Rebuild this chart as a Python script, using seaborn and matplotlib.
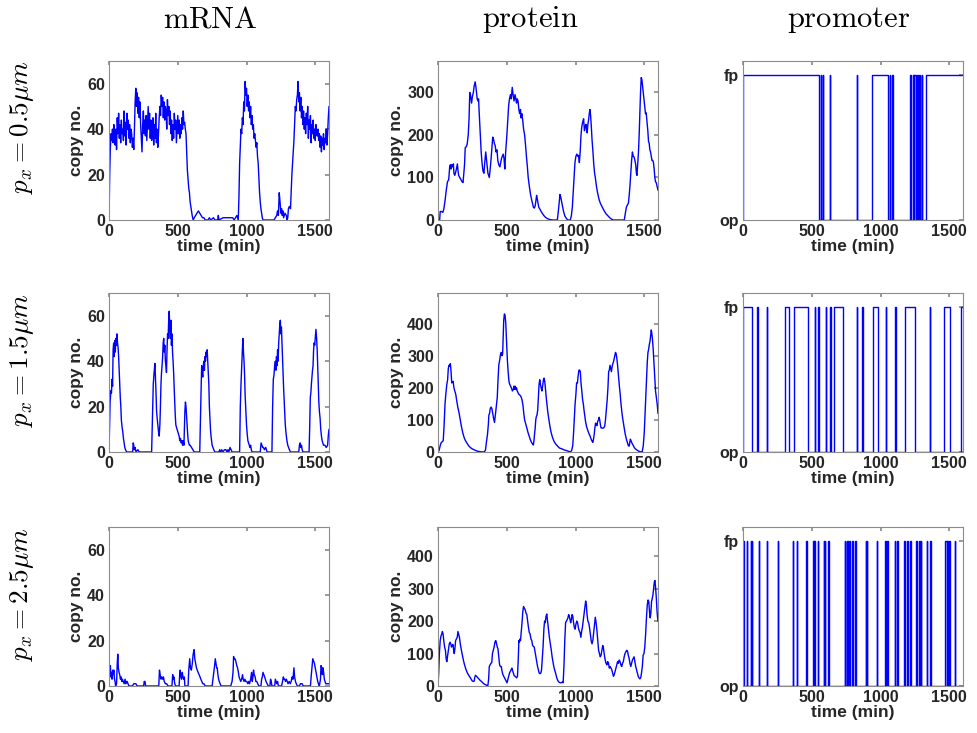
import matplotlib
matplotlib.use("Agg")
import matplotlib.pyplot as plt
import seaborn as sns
import numpy as np
import pandas as pd

# --- valeurs : (temps en min, nombre de copies) ---
MRNA_05 = [(0,0),(5,20),(10,32),(15,38),(20,35),(25,40),(30,34),(35,42),(40,36),(45,33),(50,40),(55,31),
    (60,45),(65,38),(70,47),(75,36),(80,42),(85,34),(90,44),(95,38),(100,40),(105,35),(110,48),(115,37),
    (120,43),(125,33),(130,47),(135,40),(140,44),(145,36),(150,42),(155,34),(160,40),(165,38),(170,32),
    (175,36),(180,31),(185,40),(190,52),(195,58),(200,50),(205,56),(210,47),(215,54),(220,45),(225,52),
    (230,42),(235,36),(240,30),(245,42),(250,48),(255,38),(260,44),(265,37),(270,46),(275,35),(280,42),
    (285,50),(290,40),(295,47),(300,36),(305,44),(310,35),(315,38),(320,45),(325,33),(330,42),(335,36),
    (340,47),(345,34),(350,40),(355,32),(360,38),(365,45),(370,50),(375,46),(380,55),(385,50),(390,54),
    (395,45),(400,52),(405,44),(410,50),(415,48),(420,40),(425,53),(430,46),(435,50),(440,42),(445,48),
    (450,38),(455,44),(460,35),(465,42),(470,36),(475,47),(480,40),(485,44),(490,34),(495,40),(500,46),
    (505,38),(510,44),(515,36),(520,42),(525,38),(530,45),(535,40),(540,48),(545,42),(550,43),(555,40),
    (560,38),(565,30),(570,22),(575,18),(580,14),(585,12),(590,8),(595,6),(600,4),(605,2),(612,0),
    (620,1),(630,2),(640,3),(650,4),(660,3),(670,2),(680,1),(690,1),(700,0),(720,0),(730,1),(740,0),
    (760,1),(770,0),(790,0),(795,2),(800,0),(830,1),(860,1),(880,1),(900,1),(910,0),(930,2),(940,0),
    (945,10),(950,25),(955,32),(960,40),(965,38),(970,45),(975,42),(980,52),(985,48),(990,61),(995,55),
    (1000,58),(1005,50),(1010,55),(1015,48),(1020,52),(1025,45),(1030,50),(1035,42),(1040,46),(1045,40),
    (1050,42),(1055,36),(1060,38),(1065,35),(1070,32),(1075,34),(1080,28),(1085,25),(1090,18),(1095,12),
    (1100,8),(1105,5),(1110,3),(1115,1),(1120,0),(1200,0),(1210,1),(1220,2),(1225,4),(1232,2),(1238,12),
    (1244,8),(1250,3),(1255,5),(1260,2),(1265,4),(1270,1),(1280,3),(1290,2),(1295,0),(1300,1),(1305,5),
    (1312,6),(1320,5),(1330,20),(1340,30),(1345,35),(1350,42),(1355,50),(1360,48),(1365,53),(1370,55),
    (1375,61),(1380,52),(1385,56),(1390,48),(1395,54),(1400,45),(1405,50),(1410,42),(1415,48),(1420,40),
    (1425,45),(1430,38),(1435,47),(1440,42),(1445,50),(1450,36),(1455,44),(1460,40),(1465,46),(1470,34),
    (1475,42),(1480,38),(1485,44),(1490,36),(1495,40),(1500,35),(1505,42),(1510,38),(1515,37),(1520,40),
    (1525,35),(1530,38),(1535,32),(1540,37),(1545,30),(1550,36),(1555,33),(1560,38),(1565,31),(1570,36),
    (1575,34),(1580,40),(1585,33),(1590,38),(1595,45),(1600,50)]

MRNA_15 = [(0,0),(4,12),(8,22),(14,27),(18,26),(22,32),(26,29),(30,45),(34,48),(38,42),(42,49),(46,44),
    (50,50),(54,47),(58,52),(62,48),(66,46),(70,42),(74,36),(78,30),(82,24),(86,20),(90,14),(95,11),
    (100,9),(105,6),(110,4),(115,2),(120,1),(128,0),(172,0),(176,4),(180,3),(184,1),(190,2),(196,0),
    (210,1),(220,0),(310,0),(316,15),(322,30),(328,35),(334,39),(338,33),(342,26),(346,18),(350,15),
    (355,12),(360,9),(365,7),(370,12),(374,20),(378,30),(382,35),(386,38),(390,42),(394,48),(398,50),
    (402,44),(406,47),(410,40),(414,38),(418,35),(422,45),(426,52),(430,50),(434,58),(438,62),(442,54),
    (446,50),(450,58),(454,47),(458,52),(462,44),(466,40),(470,35),(474,28),(478,22),(482,16),(486,12),
    (490,11),(495,10),(500,9),(505,8),(510,7),(515,5),(520,6),(525,4),(530,5),(535,3),(540,5),(545,3),
    (548,10),(552,18),(556,22),(560,20),(564,16),(568,12),(572,8),(576,5),(580,4),(585,3),(590,3),
    (600,2),(610,1),(620,0),(660,0),(665,15),(670,28),(674,38),(678,35),(682,33),(686,38),(690,40),
    (694,36),(698,42),(702,40),(706,44),(710,42),(714,45),(718,40),(722,36),(726,30),(730,20),(734,15),
    (738,10),(742,7),(746,5),(750,3),(756,2),(762,1),(770,0),(800,0),(805,1),(812,0),(820,1),(828,0),
    (840,1),(850,1),(858,0),(865,1),(872,0),(880,2),(888,1),(895,0),(950,0),(955,20),(960,30),(965,38),
    (970,45),(974,50),(978,44),(982,40),(986,34),(990,25),(995,18),(1000,12),(1005,8),(1010,5),(1015,4),
    (1020,3),(1025,2),(1030,3),(1035,1),(1040,0),(1100,0),(1106,4),(1112,3),(1118,2),(1124,2),(1130,1),
    (1140,2),(1150,0),(1185,0),(1190,20),(1195,32),(1200,34),(1205,38),(1210,40),(1214,36),(1218,42),
    (1222,38),(1226,45),(1230,40),(1234,48),(1238,52),(1242,56),(1246,58),(1250,52),(1254,55),(1258,48),
    (1262,42),(1266,35),(1270,28),(1276,20),(1282,12),(1288,8),(1294,5),(1300,3),(1306,2),(1312,1),
    (1320,0),(1380,0),(1385,3),(1390,4),(1395,2),(1400,3),(1405,1),(1410,0),(1455,0),(1460,12),(1464,24),
    (1468,26),(1472,30),(1476,33),(1480,36),(1484,38),(1488,45),(1492,48),(1496,47),(1500,50),(1505,54),
    (1510,50),(1514,45),(1518,38),(1522,30),(1526,22),(1530,18),(1535,15),(1540,10),(1545,7),(1550,5),
    (1560,3),(1570,3),(1580,2),(1590,3),(1596,8),(1600,10)]

MRNA_25 = [(0,0),(4,5),(10,9),(14,4),(18,6),(22,3),(27,7),(31,5),(35,7),(40,3),(44,2),(48,0),(55,1),
    (60,10),(64,14),(68,8),(73,6),(78,5),(83,3),(88,4),(93,2),(98,3),(103,2),(110,1),(117,3),(122,1),
    (127,2),(132,2),(138,1),(145,0),(170,0),(180,1),(195,1),(205,0),(252,0),(256,2),(262,2),(266,0),
    (362,0),(367,7),(372,5),(378,3),(384,4),(390,3),(396,4),(402,2),(410,1),(420,1),(428,0),(458,0),
    (463,5),(468,3),(472,4),(478,1),(485,0),(510,0),(514,5),(518,7),(523,4),(528,3),(533,6),(538,4),
    (543,3),(548,4),(552,0),(575,0),(580,7),(587,12),(592,8),(599,7),(606,10),(612,14),(619,16),
    (624,12),(630,10),(636,8),(642,7),(648,6),(655,5),(662,4),(668,3),(675,2),(682,1),(690,1),(700,0),
    (750,0),(756,3),(762,6),(768,9),(773,12),(778,10),(783,8),(787,8),(792,5),(797,3),(802,2),(808,1),
    (815,0),(885,0),(895,2),(902,6),(906,13),(910,12),(916,12),(922,11),(929,9),(935,8),(941,6),(946,4),
    (952,3),(958,2),(965,3),(971,5),(976,3),(982,2),(988,3),(995,2),(1002,2),(1010,1),(1016,2),(1022,1),
    (1030,3),(1037,6),(1042,2),(1047,4),(1051,7),(1056,5),(1063,4),(1068,2),(1075,2),(1082,1),(1090,0),
    (1105,0),(1110,3),(1115,4),(1120,6),(1126,5),(1132,4),(1137,3),(1142,2),(1150,1),(1158,0),(1170,0),
    (1175,3),(1180,2),(1185,0),(1205,0),(1210,3),(1215,2),(1220,1),(1226,2),(1232,0),(1255,0),(1262,2),
    (1268,4),(1273,3),(1278,3),(1284,2),(1290,3),(1296,2),(1302,1),(1310,2),(1318,1),(1325,2),(1332,4),
    (1338,3),(1345,8),(1350,4),(1356,2),(1362,1),(1370,0),(1385,0),(1392,1),(1405,1),(1412,0),(1465,0),
    (1470,4),(1476,8),(1482,12),(1488,11),(1494,10),(1500,8),(1506,6),(1512,4),(1518,2),(1523,1),
    (1530,0),(1538,3),(1542,9),(1547,8),(1552,5),(1556,8),(1561,6),(1566,3),(1571,2),(1577,1),(1585,1),
    (1600,1)]

PROT_05 = [(0,0),(12,0),(16,20),(25,20),(35,18),(42,25),(51,45),(60,70),(69,90),(78,95),(85,125),
    (90,130),(95,120),(100,130),(106,125),(112,132),(116,110),(122,105),(128,112),(134,120),(141,132),
    (146,115),(150,105),(158,100),(167,95),(175,90),(182,88),(188,110),(193,130),(198,170),(205,172),
    (212,178),(220,200),(226,240),(231,300),(236,295),(240,285),(244,275),(250,290),(257,300),(263,315),
    (270,325),(275,315),(280,300),(285,285),(290,280),(295,285),(300,250),(308,200),(314,160),(320,135),
    (327,115),(334,110),(340,135),(347,160),(352,145),(358,125),(363,110),(368,105),(373,100),(378,115),
    (385,140),(392,170),(398,195),(404,190),(410,180),(416,175),(422,160),(429,165),(435,140),(442,130),
    (450,125),(456,135),(462,145),(468,150),(474,155),(480,145),(486,120),(492,160),(501,200),(508,240),
    (514,270),(520,285),(527,295),(533,285),(540,312),(546,295),(553,280),(560,295),(566,285),(571,275),
    (576,285),(582,280),(588,260),(594,250),(600,260),(604,240),(610,250),(616,235),(622,215),(630,200),
    (637,175),(643,150),(650,125),(656,100),(664,80),(673,60),(683,45),(694,30),(700,28),(706,32),
    (712,45),(717,58),(722,50),(727,40),(733,30),(742,25),(750,20),(760,15),(771,10),(783,6),(797,3),
    (815,1),(835,0),(868,0),(875,20),(882,45),(887,60),(892,55),(898,45),(904,35),(913,20),(922,10),
    (931,5),(938,2),(945,0),(962,0),(970,10),(977,30),(984,70),(990,100),(996,135),(1003,150),(1010,155),
    (1016,150),(1022,152),(1028,135),(1034,160),(1040,200),(1046,220),(1052,230),(1059,238),(1065,210),
    (1071,220),(1076,225),(1080,215),(1085,205),(1090,225),(1095,235),(1100,250),(1105,260),(1110,245),
    (1115,220),(1120,190),(1127,160),(1133,130),(1139,110),(1144,100),(1152,80),(1160,65),(1170,50),
    (1180,40),(1195,30),(1208,22),(1221,15),(1235,10),(1250,5),(1262,2),(1275,0),(1355,0),(1362,15),
    (1370,30),(1377,35),(1385,40),(1391,60),(1396,80),(1402,110),(1408,140),(1414,160),(1420,150),
    (1426,148),(1432,140),(1438,130),(1443,110),(1447,105),(1452,130),(1458,160),(1463,200),(1468,250),
    (1473,300),(1478,335),(1483,330),(1488,315),(1493,300),(1499,280),(1504,265),(1509,250),(1514,252),
    (1520,230),(1526,210),(1531,185),(1536,180),(1541,165),(1546,160),(1551,150),(1556,140),(1562,140),
    (1567,135),(1572,120),(1577,100),(1582,90),(1587,88),(1593,80),(1600,70)]

PROT_15 = [(0,0),(8,5),(16,20),(22,28),(30,32),(38,35),(44,80),(51,150),(57,180),(64,210),(70,225),
    (75,260),(80,270),(85,268),(90,275),(95,250),(100,215),(105,218),(110,220),(116,200),(122,190),
    (129,180),(136,160),(144,140),(154,120),(162,100),(170,80),(180,60),(190,45),(200,35),(210,28),
    (222,20),(235,14),(248,10),(262,7),(283,3),(305,1),(334,0),(345,5),(352,30),(360,55),(366,85),
    (370,115),(375,120),(380,135),(386,140),(392,135),(398,120),(404,105),(411,92),(416,110),(421,130),
    (426,150),(431,170),(436,220),(442,270),(450,290),(455,305),(460,310),(465,300),(470,305),(474,360),
    (478,410),(483,430),(488,425),(493,400),(498,350),(504,290),(510,250),(516,220),(522,210),(528,205),
    (535,198),(541,190),(548,195),(552,205),(556,195),(561,205),(566,195),(571,200),(576,190),(582,185),
    (587,180),(593,178),(600,175),(606,170),(612,160),(618,145),(624,120),(630,100),(638,88),(646,75),
    (655,60),(664,48),(672,38),(680,30),(688,25),(694,22),(699,40),(703,60),(707,75),(711,100),(715,110),
    (720,115),(725,130),(730,170),(735,210),(740,225),(745,210),(750,200),(756,190),(762,210),(767,225),
    (771,230),(776,220),(781,200),(787,170),(792,150),(797,130),(805,105),(814,80),(823,60),(833,45),
    (845,32),(856,25),(870,18),(885,12),(900,10),(915,7),(930,5),(945,3),(958,1),(964,0),(972,5),
    (980,20),(986,60),(992,110),(997,150),(1003,180),(1008,215),(1014,215),(1020,240),(1025,255),
    (1030,255),(1035,250),(1040,215),(1046,190),(1051,165),(1057,150),(1062,130),(1067,115),(1073,95),
    (1080,80),(1087,70),(1094,62),(1100,55),(1106,50),(1112,42),(1119,35),(1126,30),(1131,40),(1136,55),
    (1141,75),(1146,90),(1151,85),(1156,82),(1161,95),(1167,100),(1172,108),(1176,100),(1181,85),
    (1186,75),(1192,75),(1198,74),(1205,75),(1212,80),(1218,100),(1224,130),(1230,160),(1236,200),
    (1241,250),(1246,255),(1251,270),(1256,260),(1261,250),(1266,265),(1271,275),(1276,280),(1281,290),
    (1286,300),(1291,310),(1296,305),(1301,290),(1306,270),(1312,240),(1318,210),(1325,180),(1331,150),
    (1337,125),(1343,105),(1350,85),(1356,70),(1362,55),(1370,40),(1377,30),(1384,20),(1390,18),
    (1395,30),(1399,40),(1404,35),(1410,28),(1418,22),(1426,15),(1435,10),(1447,6),(1458,3),(1470,1),
    (1485,0),(1493,20),(1500,60),(1505,110),(1510,160),(1516,220),(1522,280),(1527,310),(1532,320),
    (1537,335),(1542,345),(1547,365),(1551,380),(1555,370),(1560,350),(1565,320),(1570,280),(1576,230),
    (1582,190),(1588,170),(1594,150),(1600,120)]

PROT_25 = [(0,0),(5,40),(10,100),(16,140),(22,155),(27,160),(32,168),(37,160),(42,140),(48,120),
    (54,110),(59,85),(64,75),(69,90),(75,110),(82,130),(88,135),(93,130),(98,120),(103,125),(109,128),
    (114,110),(118,100),(123,115),(128,140),(134,145),(140,150),(145,168),(150,160),(156,150),(162,130),
    (168,115),(175,100),(182,85),(190,70),(198,58),(206,48),(214,40),(222,34),(231,28),(240,22),
    (248,16),(257,14),(263,15),(268,28),(273,33),(280,30),(288,26),(296,22),(305,18),(313,15),(321,12),
    (330,8),(340,5),(347,4),(355,2),(362,0),(368,20),(373,60),(379,65),(385,70),(391,72),(396,100),
    (402,110),(408,120),(414,135),(420,140),(426,130),(431,120),(436,115),(442,90),(448,65),(454,60),
    (460,60),(466,45),(472,35),(478,30),(484,25),(490,20),(496,15),(502,10),(508,20),(514,30),(520,40),
    (526,45),(532,50),(537,55),(542,48),(548,40),(554,32),(560,30),(566,28),(572,25),(578,30),(584,85),
    (588,140),(592,135),(596,145),(600,140),(606,170),(612,200),(617,230),(622,245),(628,240),(634,235),
    (640,225),(646,220),(652,200),(658,180),(664,165),(670,160),(676,145),(682,140),(688,125),(694,122),
    (700,120),(706,105),(712,90),(718,75),(724,60),(730,50),(736,40),(742,38),(748,40),(753,50),
    (758,80),(764,120),(770,175),(775,200),(780,195),(786,215),(791,222),(797,200),(803,180),(810,150),
    (817,130),(824,110),(830,90),(836,75),(842,60),(848,50),(855,40),(862,28),(868,20),(874,15),
    (880,12),(888,10),(896,10),(904,12),(910,10),(916,60),(922,140),(928,195),(934,200),(940,205),
    (945,210),(950,220),(955,215),(960,205),(965,195),(970,205),(975,220),(980,215),(986,195),(992,180),
    (997,175),(1003,190),(1009,200),(1015,195),(1021,180),(1027,170),(1033,165),(1039,150),(1045,170),
    (1050,180),(1056,200),(1062,220),(1068,240),(1074,262),(1079,250),(1084,220),(1090,200),(1096,195),
    (1102,180),(1108,160),(1114,140),(1120,130),(1126,140),(1132,165),(1138,190),(1144,212),(1150,195),
    (1156,170),(1162,140),(1168,110),(1174,100),(1180,90),(1186,95),(1192,110),(1198,125),(1204,115),
    (1210,95),(1216,80),(1222,70),(1228,65),(1234,75),(1240,70),(1246,55),(1252,60),(1258,55),(1264,50),
    (1270,40),(1276,30),(1282,35),(1288,45),(1294,55),(1300,65),(1306,75),(1312,70),(1318,80),(1324,75),
    (1330,65),(1336,60),(1342,70),(1348,75),(1354,90),(1360,100),(1366,105),(1372,110),(1378,108),
    (1384,95),(1390,85),(1396,70),(1402,60),(1408,70),(1414,80),(1420,85),(1426,90),(1432,75),(1438,60),
    (1444,50),(1450,40),(1456,30),(1462,25),(1468,22),(1474,25),(1480,40),(1486,60),(1492,95),(1498,100),
    (1504,120),(1510,160),(1516,210),(1522,250),(1528,265),(1533,260),(1538,230),(1543,210),(1548,225),
    (1553,260),(1558,270),(1563,280),(1568,300),(1573,320),(1578,325),(1583,300),(1588,270),(1593,230),
    (1597,210),(1600,200)]

# intervalles (début, fin) où le promoteur est dans l'état "fp"
PROM_05 = [(0,555),(565,568),(580,584),(630,633),(828,831),(940,1058),(1066,1070),(1086,1091),
    (1215,1224),(1234,1240),(1246,1255),(1265,1268),(1274,1280),(1286,1290),(1300,1304),(1329,1600)]
PROM_15 = [(0,62),(105,108),(174,177),(308,337),(368,470),(520,524),(542,550),(600,604),(636,640),
    (662,730),(826,829),(866,870),(948,981),(1037,1040),(1108,1111),(1176,1252),(1360,1363),
    (1461,1504),(1588,1600)]
PROM_25 = [(0,4),(27,30),(55,58),(62,66),(115,118),(174,177),(253,256),(360,363),(391,394),(460,463),
    (510,513),(517,521),(543,546),(586,590),(593,597),(615,625),(741,745),(753,757),(760,764),(772,776),
    (793,797),(817,821),(893,897),(900,904),(972,976),(1034,1038),(1050,1054),(1105,1109),(1122,1126),
    (1174,1178),(1193,1197),(1217,1221),(1258,1262),(1281,1285),(1293,1297),(1336,1340),(1360,1364),
    (1467,1480),(1484,1490),(1495,1505),(1541,1545)]

ROW_LABELS = [r"$p_x = 0.5\mu m$", r"$p_x = 1.5\mu m$", r"$p_x = 2.5\mu m$"]
COL_TITLES = ["mRNA", "protein", "promoter"]
PROT_YMAX = [374, 495, 490]
T_END = 1600


def to_frame(pairs):
    t, v = zip(*pairs)
    return pd.DataFrame({"time": t, "copies": v})


def promoter_frame(intervals):
    # trace en créneaux : 0 = op, 1 = fp
    t, s = [0], [0]
    for a, b in intervals:
        t += [a, a, b]
        s += [0, 1, 1]
        if b < T_END:
            t.append(b)
            s.append(0)
    if t[-1] < T_END:
        t.append(T_END)
        s.append(s[-1])
    return pd.DataFrame({"time": t, "state": s})


sns.set_theme(style="white")
plt.rcParams["font.family"] = ["Liberation Sans", "DejaVu Sans"]
plt.rcParams["mathtext.fontset"] = "cm"

GREY = "#8c8c8c"
TXT = "#262626"

fig = plt.figure(figsize=(9.77, 7.33), dpi=100)
W, H = 977, 733
lefts = [109, 438, 743]
tops = [61, 293, 527]
aw, ah = 220, 159

mrna = [MRNA_05, MRNA_15, MRNA_25]
prot = [PROT_05, PROT_15, PROT_25]
prom = [PROM_05, PROM_15, PROM_25]

for r in range(3):
    for c in range(3):
        ax = fig.add_axes([lefts[c] / W, 1 - (tops[r] + ah) / H, aw / W, ah / H])
        if c == 0:
            sns.lineplot(data=to_frame(mrna[r]), x="time", y="copies", ax=ax,
                         color="blue", lw=1, estimator=None, sort=False)
            ax.set_ylim(0, 70)
            ax.set_yticks([0, 20, 40, 60])
            ax.set_ylabel("copy no.", fontsize=12.5, fontweight="bold", color=TXT, labelpad=2)
        elif c == 1:
            sns.lineplot(data=to_frame(prot[r]), x="time", y="copies", ax=ax,
                         color="blue", lw=1, estimator=None, sort=False)
            ax.set_ylim(0, PROT_YMAX[r])
            ax.set_yticks(range(0, PROT_YMAX[r], 100))
            ax.set_ylabel("copy no.", fontsize=12.5, fontweight="bold", color=TXT, labelpad=2)
        else:
            sns.lineplot(data=promoter_frame(prom[r]), x="time", y="state", ax=ax,
                         color="blue", lw=1, estimator=None, sort=False)
            ax.set_ylim(0, 1.096)
            ax.set_yticks([0, 1])
            ax.set_yticklabels(["op", "fp"])
            ax.set_ylabel("")
        ax.set_xlim(0, T_END)
        ax.set_xticks([0, 500, 1000, 1500])
        ax.set_xlabel("time (min)", fontsize=12.5, fontweight="bold", color=TXT, labelpad=0)
        ax.tick_params(direction="in", top=True, right=True, length=3, color=GREY,
                       labelsize=11.5, labelcolor=TXT, pad=3)
        for lab in ax.get_xticklabels() + ax.get_yticklabels():
            lab.set_fontweight("bold")
        for sp in ax.spines.values():
            sp.set_color(GREY)
            sp.set_linewidth(0.8)
        if ax.get_legend():
            ax.get_legend().remove()

title_x = [210, 530, 849]
for c in range(3):
    fig.text(title_x[c] / W, 1 - 27 / H, r"$\mathrm{" + COL_TITLES[c] + "}$",
             fontsize=22, ha="center", va="baseline", color="black")

row_y = [127, 360, 594]
for r in range(3):
    fig.text(22 / W, 1 - row_y[r] / H, ROW_LABELS[r], fontsize=19.5, rotation=90,
             ha="center", va="center", color="black")

fig.savefig("out.png", dpi=100)
